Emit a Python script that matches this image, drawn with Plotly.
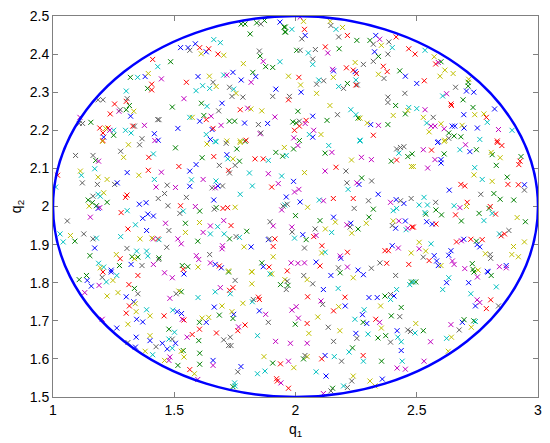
import plotly.graph_objects as go

# ---- data (in data units) ----
q1_a = [1.411,1.432,1.393,1.380,1.349,1.319,1.407,1.390,1.407,1.302,1.306,1.302,1.186,1.206,1.254,1.315,1.302,1.277,1.272,1.333,1.236,1.320,1.111,1.108,1.122,1.156,1.377,1.329,1.336,1.193,1.217,1.227,1.250,1.234,1.299,1.322,1.206,1.250,1.209,1.367,1.418,1.432,1.206,1.420]
q2_a = [2.386,2.367,2.349,2.341,2.339,2.339,2.321,2.310,2.306,2.303,2.283,2.276,2.280,2.280,2.269,2.265,2.254,2.254,2.250,2.250,2.243,2.237,2.234,2.218,2.218,2.221,2.213,2.211,2.211,2.206,2.205,2.206,2.200,2.200,2.200,2.193,2.193,2.187,2.182,2.178,2.191,2.228,2.173,2.173]
c_a = "rcybcgrgrc" "krkkrggkmy" "rbmkkgmrkr" "yrcmccrgbk" "bkrm"

q1_b = [1.776,1.792,1.840,1.857,1.872,1.936,1.953,1.956,1.813,1.663,1.690,1.587,1.526,1.557,1.564,1.605,1.642,1.632,1.611,1.680,1.704,1.851,1.854,1.867,1.936,1.485,1.877,1.906,1.785,1.824,1.836,1.742,1.717,1.704,1.645,1.598,1.447,1.776,1.817,1.550,1.660,1.617,1.646,1.673,1.590,1.728,1.745,1.755,1.738,1.783,1.919,1.906,1.540,1.612,1.635,1.697,1.492,1.683,1.772,1.803,1.816,1.861,1.915,1.622,1.652,1.564,1.574,1.632,1.605,1.437,1.727,1.749,1.790,1.847,1.885,1.693,1.660,1.656,1.515,1.632,1.649,1.672,1.717,1.772,1.796,1.854,1.857,1.434]
q2_b = [2.479,2.479,2.482,2.479,2.488,2.484,2.471,2.458,2.453,2.438,2.430,2.427,2.417,2.417,2.410,2.417,2.414,2.406,2.401,2.400,2.397,2.408,2.395,2.381,2.380,2.380,2.367,2.365,2.375,2.352,2.341,2.352,2.345,2.345,2.342,2.341,2.335,2.332,2.326,2.326,2.326,2.317,2.310,2.315,2.304,2.313,2.308,2.297,2.289,2.287,2.308,2.289,2.283,2.271,2.263,2.271,2.261,2.251,2.254,2.258,2.256,2.251,2.235,2.239,2.237,2.234,2.234,2.228,2.224,2.228,2.224,2.224,2.219,2.215,2.218,2.213,2.205,2.202,2.205,2.189,2.176,2.170,2.172,2.172,2.174,2.191,2.193,2.174]
c_b = "gggkgbgggc" "cbbbkrrbyr" "ykgmcgggyg" "bbmcybmbmr" "kccyckcykk" "bkmgcbgkrm" "yymgmcyrbk" "ggbkbmrbbc" "bcyyrmkb"

q1_c = [2.019,2.033,1.958,1.959,1.985,2.037,2.040,2.026,2.143,2.146,2.167,2.194,2.178,2.214,2.253,2.307,2.331,2.347,2.321,2.354,2.385,2.399,2.415,2.467,2.005,2.019,2.082,2.123,2.053,2.133,2.180,2.326,2.342,2.381,2.071,2.071,2.246,2.280,2.321,2.362,2.378,2.430,2.453,2.210,2.153,2.157,2.238,2.246,2.251,2.342,2.365,1.971,2.014,2.156,2.096,2.116,2.249,2.214,2.087,2.021,2.178,2.198,2.249,2.255,2.023,2.087,1.975,1.971,2.381,2.451,2.381,2.413,2.142,2.467,2.463,2.453,2.010,2.228,2.173,2.249,2.258,2.266,2.403,2.071,2.130,2.016,1.989,2.003,2.044,2.040,2.016,2.296,2.310,2.342,2.381,2.075,1.996,2.057,2.071,2.105,1.993,2.016,2.321,2.266]
q2_c = [2.497,2.486,2.471,2.458,2.465,2.465,2.449,2.440,2.486,2.475,2.465,2.470,2.445,2.449,2.436,2.436,2.449,2.439,2.426,2.423,2.432,2.417,2.445,2.414,2.410,2.410,2.412,2.419,2.403,2.403,2.414,2.406,2.394,2.400,2.387,2.373,2.378,2.373,2.381,2.368,2.354,2.356,2.342,2.364,2.360,2.356,2.358,2.354,2.349,2.347,2.336,2.342,2.339,2.339,2.332,2.330,2.332,2.323,2.321,2.319,2.315,2.310,2.319,2.319,2.300,2.297,2.289,2.280,2.287,2.297,2.273,2.265,2.265,2.260,2.252,2.243,2.250,2.254,2.241,2.241,2.232,2.232,2.239,2.237,2.226,2.224,2.222,2.219,2.226,2.218,2.211,2.219,2.215,2.213,2.215,2.200,2.200,2.189,2.182,2.189,2.180,2.173,2.187,2.174]
c_c = "myggcrbkyk" "cykrggbmky" "kcrrgkkrcm" "gbgkkcykkr" "rgbrmbrbry" "kyryckcgky" "ckrkbykrkk" "kgycyggckc" "gyybgkggrm" "rybmgmrcby" "mgrc"

q1_d = [2.534,2.493,2.572,2.600,2.589,2.578,2.616,2.650,2.596,2.531,2.500,2.714,2.712,2.712,2.660,2.705,2.735,2.623,2.607,2.691,2.641,2.643,2.732,2.821,2.500,2.534,2.694,2.739,2.777,2.787,2.791,2.527,2.568,2.541,2.559,2.575,2.600,2.613,2.646,2.657,2.687,2.695,2.750,2.837,2.893,2.551,2.632,2.654,2.682,2.632,2.616,2.589,2.760,2.832]
q2_d = [2.410,2.400,2.393,2.380,2.378,2.374,2.358,2.349,2.342,2.330,2.323,2.334,2.326,2.316,2.313,2.303,2.300,2.296,2.290,2.280,2.269,2.265,2.260,2.256,2.257,2.254,2.241,2.241,2.243,2.234,2.221,2.234,2.234,2.219,2.211,2.211,2.217,2.204,2.211,2.211,2.213,2.206,2.206,2.202,2.200,2.196,2.193,2.185,2.183,2.179,2.174,2.170,2.176,2.172]
c_d = "crygmryyyr" "byggkbbmcg" "rrgbcmbyyr" "cykcmmymbb" "ybbmcygggk" "ybcr"

q1_e = [1.204,1.311,1.357,1.093,1.165,1.176,1.188,1.279,1.291,1.395,1.414,1.113,1.117,1.172,1.186,1.223,1.306,1.354,1.393,1.418,1.019,1.011,1.121,1.183,1.254,1.265,1.425,1.165,1.186,1.209,1.195,1.145,1.162,1.223,1.149,1.179,1.186,1.193,1.299,1.305,1.356,1.384,1.434,1.154,1.059,1.281,1.306,1.370,1.391,1.414,1.309,1.340,1.386,1.029,1.042,1.072,1.090,1.127,1.165,1.179,1.279,1.359,1.408,1.414,1.432,1.172,1.305,1.345,1.386,1.152,1.261,1.326,1.336,1.350,1.391,1.277,1.188,1.209,1.195,1.240,1.274,1.322,1.367,1.414,1.436]
q2_e = [2.171,2.162,2.162,2.134,2.134,2.121,2.119,2.145,2.129,2.129,2.138,2.093,2.082,2.099,2.077,2.071,2.089,2.082,2.095,2.071,2.082,2.051,2.062,2.058,2.058,2.062,2.051,2.027,2.032,2.036,2.027,2.017,2.010,2.011,2.001,2.002,1.995,1.997,2.024,2.030,2.006,2.010,2.021,1.972,1.962,1.984,1.989,1.969,1.980,1.975,1.941,1.952,1.937,1.928,1.907,1.924,1.909,1.928,1.915,1.917,1.921,1.915,1.917,1.915,1.915,1.891,1.890,1.883,1.883,1.871,1.874,1.868,1.863,1.867,1.870,1.863,1.851,1.841,1.839,1.833,1.845,1.848,1.845,1.848,1.861]
c_e = "yykkkgmkyr" "cyccyybyrc" "rckkkbmkcy" "cgggygbmrr" "bbkmkrcbbb" "rcbccygkkc" "cyymrbkccg" "ygygcrccyb" "gbkmk"

q1_f = [1.635,1.669,1.714,1.772,1.792,1.505,1.758,1.919,1.954,1.947,1.615,1.663,1.717,1.721,1.742,1.769,1.751,1.833,1.867,1.888,1.519,1.590,1.686,1.447,1.564,1.724,1.728,1.810,1.888,1.943,1.571,1.619,1.672,1.471,1.505,1.564,1.656,1.669,1.680,1.699,1.822,1.902,1.929,1.460,1.772,1.550,1.663,1.474,1.526,1.587,1.605,1.537,1.523,1.665,1.673,1.701,1.720,1.751,1.943,1.949,1.956,1.464,1.546,1.604,1.704,1.478,1.546,1.619,1.649,1.679,1.734,1.799,1.895,1.908,1.649,1.706,1.755,1.769,1.728,1.437,1.515,1.529,1.597,1.888,1.892,1.915,1.469,1.699,1.697,1.788,1.817,1.908,1.646,1.591,1.601,1.437,1.649,1.669,1.686,1.694,1.533,1.556,1.598,1.537,1.908,1.861,1.867,1.891,1.820,1.724]
q2_f = [2.164,2.171,2.166,2.168,2.171,2.154,2.151,2.142,2.155,2.132,2.128,2.131,2.136,2.125,2.125,2.119,2.108,2.125,2.125,2.121,2.105,2.110,2.108,2.090,2.093,2.095,2.088,2.088,2.086,2.080,2.070,2.071,2.067,2.056,2.050,2.053,2.049,2.049,2.054,2.054,2.054,2.051,2.060,2.034,2.032,2.024,2.017,2.002,2.002,2.000,1.988,1.988,1.982,1.993,1.997,1.995,1.997,1.998,1.991,2.001,2.004,1.956,1.956,1.958,1.963,1.937,1.932,1.932,1.949,1.947,1.950,1.935,1.960,1.949,1.928,1.928,1.921,1.919,1.915,1.913,1.915,1.902,1.909,1.913,1.915,1.915,1.893,1.897,1.889,1.894,1.894,1.895,1.874,1.871,1.861,1.865,1.852,1.848,1.844,1.839,1.845,1.842,1.841,1.835,1.868,1.852,1.842,1.841,1.829,1.831]
c_f = "yckyggggyg" "grbcygkrrc" "rbkmbrkcmc" "cmckmbkmbk" "crmkckbkrm" "gckkgrrymk" "cmgymkymmc" "rgkmcckcgc" "mmgbkrkmmy" "brkmmgmbrb" "ggyrygbryy"

q1_g = [2.010,1.992,1.962,2.137,2.122,2.150,2.266,2.417,2.433,2.447,2.426,2.463,2.481,2.395,2.417,2.478,2.231,2.272,2.313,2.167,2.122,2.208,2.037,2.273,2.212,2.253,2.262,2.314,1.992,1.996,2.014,1.962,2.217,2.341,2.019,1.966,2.098,2.115,2.156,2.238,2.301,2.392,2.415,2.433,2.447,2.477,2.050,2.242,2.321,2.403,2.417,2.000,2.303,2.157,2.101,2.164,2.212,2.228,2.225,2.292,2.258,2.403,2.426,2.453,2.399,2.413,2.463,2.456,2.481,1.985,1.986,2.081,2.123,2.149,2.232,2.030,1.996,2.044,2.075,2.085,2.037,2.109,2.108,2.122,2.214,2.184,2.187,2.369,2.383,2.399,2.424,2.477,1.982,2.010,2.037,2.085,2.101,2.177,2.214,2.258,2.313,2.348,2.376,2.467,1.966]
q2_g = [2.160,2.151,2.134,2.160,2.140,2.142,2.172,2.151,2.155,2.157,2.140,2.131,2.138,2.119,2.122,2.105,2.122,2.129,2.123,2.103,2.093,2.093,2.089,2.075,2.062,2.062,2.058,2.067,2.066,2.038,2.045,2.025,2.045,2.032,2.012,2.006,2.017,2.015,2.021,2.021,2.015,2.011,2.018,2.015,2.008,2.021,1.998,1.995,1.993,1.989,1.995,1.976,1.972,1.972,1.963,1.959,1.952,1.956,1.946,1.956,1.941,1.962,1.962,1.962,1.950,1.943,1.943,1.939,1.946,1.946,1.933,1.941,1.941,1.932,1.930,1.926,1.917,1.913,1.921,1.924,1.891,1.897,1.878,1.880,1.880,1.870,1.864,1.884,1.884,1.897,1.891,1.878,1.852,1.851,1.852,1.854,1.844,1.839,1.841,1.833,1.838,1.852,1.851,1.848,1.831]
c_g = "mgccgmckkk" "cgggryymmr" "mkygkmbkbm" "mbcbbkcmrr" "kmbkbkykgc" "cggbgymbky" "gymbkbmcrm" "kkycybcgrm" "krycrmbrrb" "mymmmbrkmb" "kkrrr"

q1_h = [2.586,2.613,2.701,2.832,2.851,2.527,2.561,2.678,2.719,2.746,2.807,2.811,2.613,2.575,2.600,2.600,2.844,2.930,2.926,2.921,2.486,2.545,2.739,2.736,2.828,2.873,2.770,2.811,2.682,2.698,2.876,2.919,2.944,2.944,2.634,2.764,2.818,2.530,2.578,2.844,2.900,2.510,2.544,2.654,2.678,2.705,2.708,2.798,2.803,2.579,2.534,2.537,2.602,2.660,2.757,2.811,2.825,2.541,2.564,2.579,2.684,2.777,2.914,2.948,2.486,2.841,2.848,2.862,2.880,2.664,2.684,2.694,2.723,2.746,2.770,2.749,2.760,2.510,2.559,2.510,2.537,2.641,2.632,2.572,2.527,2.551,2.582,2.589,2.600,2.647,2.654,2.698,2.729,2.732,2.753,2.783,2.803,2.805,2.841,2.869,2.869,2.791,2.892,2.919,2.899,2.944]
q2_h = [2.168,2.171,2.162,2.168,2.160,2.149,2.148,2.149,2.144,2.149,2.142,2.136,2.138,2.123,2.123,2.114,2.128,2.131,2.119,2.110,2.105,2.101,2.102,2.083,2.108,2.077,2.071,2.066,2.058,2.054,2.058,2.057,2.057,2.043,2.043,2.032,2.034,2.024,2.011,2.019,2.017,2.004,2.004,2.002,1.997,2.000,2.011,1.995,2.000,1.991,1.984,1.980,1.978,1.978,1.982,1.982,1.980,1.960,1.954,1.954,1.962,1.963,1.971,1.960,1.946,1.928,1.923,1.928,1.937,1.907,1.910,1.914,1.914,1.909,1.913,1.900,1.894,1.906,1.902,1.889,1.883,1.884,1.872,1.871,1.867,1.858,1.857,1.845,1.845,1.857,1.848,1.837,1.850,1.835,1.833,1.876,1.874,1.864,1.842,1.845,1.839,1.830,1.874,1.868,1.895,1.907]
c_h = "bymrrmrcbg" "yggmbbygrr" "ymcyggcyrr" "rrbkbkgckg" "gcccmyrgrg" "cggrgcrbbr" "gcygrcrrkr" "mbrgrbbycm" "ybbbkrbbym" "mmggyykkmb" "mbyyyy"

q1_i = [1.206,1.240,1.108,1.138,1.141,1.158,1.190,1.203,1.220,1.247,1.263,1.350,1.131,1.313,1.336,1.350,1.223,1.268,1.302,1.333,1.339,1.315,1.302,1.343,1.386,1.400,1.345,1.370,1.309,1.203,1.263,1.343,1.400,1.400,1.425,1.309,1.340,1.380,1.411]
q2_i = [1.828,1.828,1.808,1.819,1.806,1.791,1.793,1.814,1.802,1.806,1.819,1.819,1.774,1.795,1.785,1.771,1.765,1.774,1.763,1.750,1.745,1.739,1.720,1.724,1.729,1.713,1.704,1.697,1.691,1.704,1.681,1.657,1.661,1.648,1.632,1.643,1.631,1.620,1.611]
c_i = "rbggbbmkcy" "crmrgkyybb" "yrrycybbym" "bbybkkbyc"

q1_j = [1.460,1.492,1.540,1.724,1.751,1.820,1.895,1.902,1.938,1.956,1.508,1.519,1.529,1.482,1.598,1.669,1.690,1.728,1.731,1.742,1.820,1.783,1.822,1.826,1.847,1.851,1.851,1.877,1.888,1.494,1.512,1.530,1.458,1.533,1.540,1.665,1.697,1.686,1.738,1.745,1.742,1.615,1.642,1.632,1.604,1.792,1.604,1.765,1.762,1.478,1.501,1.574,1.674,1.553,1.478,1.492,1.601,1.704,1.731,1.724,1.734,1.843,1.918,1.451,1.505,1.471,1.492,1.529,1.537,1.605,1.540,1.482,1.478,1.460,1.660,1.660,1.605,1.515,1.870,1.906,1.938,1.775,1.564,1.762,1.874,1.843,1.583,1.597,1.922,1.925,1.940,1.749,1.751,1.742]
q2_j = [1.826,1.813,1.823,1.828,1.806,1.828,1.823,1.823,1.795,1.808,1.771,1.778,1.776,1.759,1.761,1.776,1.787,1.780,1.771,1.787,1.797,1.746,1.750,1.756,1.762,1.756,1.726,1.717,1.696,1.728,1.724,1.719,1.713,1.704,1.702,1.736,1.739,1.715,1.724,1.717,1.706,1.707,1.709,1.696,1.696,1.689,1.678,1.684,1.674,1.678,1.670,1.664,1.668,1.657,1.652,1.652,1.648,1.650,1.657,1.635,1.635,1.661,1.646,1.641,1.641,1.626,1.628,1.620,1.622,1.615,1.605,1.605,1.596,1.596,1.596,1.583,1.586,1.583,1.606,1.589,1.587,1.580,1.572,1.566,1.568,1.561,1.561,1.546,1.548,1.542,1.537,1.537,1.529,1.527]
c_j = "mmbgkycygy" "kygmccmrcr" "yyckrrbmkc" "bbrmrbygyb" "gyybgrrmrg" "crrmckgkkk" "kcmbbbcygg" "ymmybmggyg" "rbrkccymrr" "mccg"

q1_k = [1.966,1.969,1.962,2.034,2.048,2.071,2.146,2.184,2.238,2.280,2.413,2.471,2.478,2.115,2.176,2.417,2.050,2.204,2.303,2.337,2.369,2.392,2.406,2.392,2.436,2.105,2.112,2.178,2.205,2.351,2.003,1.985,2.157,2.283,2.276,2.395,2.430,2.012,2.092,2.245,2.331,2.347,2.279,2.294,1.999,2.048,2.135,2.183,2.354,2.419,2.463,2.474,2.055,2.249,2.253,2.299,2.340,2.372,2.392,2.422,2.436,2.157,1.979,2.048,2.235,2.436,2.039,2.048,2.033,2.122,2.108,2.160,2.221,2.279,2.190,2.280,2.355,2.440,1.971,1.993,2.419,2.453,2.085,2.126,2.238,2.232,2.307,2.358,1.971,2.153,2.146,2.198,2.214,2.328,2.115]
q2_k = [1.804,1.793,1.782,1.819,1.808,1.797,1.819,1.826,1.813,1.821,1.819,1.795,1.802,1.782,1.785,1.782,1.763,1.762,1.761,1.761,1.765,1.769,1.765,1.756,1.735,1.752,1.743,1.737,1.739,1.739,1.737,1.728,1.726,1.729,1.716,1.713,1.711,1.707,1.710,1.704,1.704,1.696,1.696,1.693,1.691,1.693,1.683,1.674,1.681,1.674,1.676,1.672,1.667,1.667,1.654,1.665,1.655,1.661,1.644,1.657,1.645,1.646,1.641,1.641,1.629,1.622,1.609,1.606,1.600,1.609,1.600,1.606,1.618,1.609,1.594,1.594,1.594,1.594,1.594,1.577,1.576,1.573,1.566,1.555,1.555,1.542,1.542,1.547,1.523,1.523,1.516,1.529,1.525,1.529,1.509]
c_k = "kgkkykbgyb" "kcgbccrrbb" "gkbcgmkyby" "mmrcbgkmyc" "rmgbgrkyyb" "kkybkcggkc" "ckmmgbkygb" "rccrkcgcmy" "mmcbykybrg" "kckym"

q1_l = [2.496,2.486,2.632,2.623,2.607,2.714,2.750,2.736,2.794,2.807,2.828,2.723,2.749,2.760,2.805,2.742,2.787,2.837,2.496,2.493,2.527,2.641,2.688,2.695,2.735,2.742,2.675,2.725,2.557,2.623,2.643,2.630,2.530]
q2_l = [1.802,1.802,1.813,1.800,1.782,1.800,1.815,1.828,1.828,1.819,1.789,1.771,1.755,1.748,1.755,1.739,1.732,1.739,1.693,1.668,1.674,1.690,1.696,1.703,1.700,1.698,1.676,1.683,1.645,1.654,1.657,1.620,1.594]
c_l = "gccbcbmgbg" "ccmmrbrkyc" "gmbggckymc" "yym"

# boundary ellipse (data extents)
ellipse_q1 = [1.0, 3.0]
ellipse_q2 = [1.5, 2.5]

x_ticks = [1, 1.5, 2, 2.5, 3]
x_tick_text = ["1", "1.5", "2", "2.5", "3"]
y_ticks = [1.5, 1.6, 1.7, 1.8, 1.9, 2.0, 2.1, 2.2, 2.3, 2.4, 2.5]
y_tick_text = ["1.5", "1.6", "1.7", "1.8", "1.9", "2", "2.1", "2.2", "2.3", "2.4", "2.5"]

series_colors = {
    "b": "#0000ff",
    "g": "#008000",
    "r": "#ff0000",
    "c": "#00bfbf",
    "m": "#bf00bf",
    "y": "#bfbf00",
    "k": "#606060",
}

# ---- assemble ----
all_q1, all_q2, all_c = [], [], []
for xs, ys, cs in [(q1_a, q2_a, c_a), (q1_b, q2_b, c_b), (q1_c, q2_c, c_c), (q1_d, q2_d, c_d),
                   (q1_e, q2_e, c_e), (q1_f, q2_f, c_f), (q1_g, q2_g, c_g), (q1_h, q2_h, c_h),
                   (q1_i, q2_i, c_i), (q1_j, q2_j, c_j), (q1_k, q2_k, c_k), (q1_l, q2_l, c_l)]:
    for x, y, c in zip(xs, ys, cs):
        all_q1.append(x)
        all_q2.append(y)
        all_c.append(c)

fig = go.Figure()
for code, col in series_colors.items():
    xs = [x for x, c in zip(all_q1, all_c) if c == code]
    ys = [y for y, c in zip(all_q2, all_c) if c == code]
    fig.add_trace(go.Scatter(
        x=xs, y=ys, mode="markers",
        marker=dict(symbol="x-thin", size=5, line=dict(width=1, color=col), color=col),
        showlegend=False, hoverinfo="skip",
    ))

fig.add_shape(type="circle", xref="x", yref="y",
              x0=ellipse_q1[0], x1=ellipse_q1[1], y0=ellipse_q2[0], y1=ellipse_q2[1],
              line=dict(color="#0000ff", width=2.5), layer="above")

FONT = "Liberation Sans, Arial, sans-serif"
axis_common = dict(
    showgrid=False, zeroline=False, showline=True, linecolor="#808080", linewidth=1,
    mirror="ticks", ticks="inside", ticklen=5, tickcolor="#808080", tickwidth=1,
    tickfont=dict(family=FONT, size=14, color="#000000"),
)

fig.update_layout(
    width=550, height=443,
    margin=dict(l=53, r=8, t=12, b=46),
    paper_bgcolor="white", plot_bgcolor="white",
    xaxis=dict(range=[1, 3], tickvals=x_ticks, ticktext=x_tick_text,
               title=dict(text="q<sub>1</sub>", standoff=7, font=dict(family=FONT, size=14, color="#000")),
               **axis_common),
    yaxis=dict(range=[1.5, 2.5], tickvals=y_ticks, ticktext=y_tick_text,
               title=dict(text="q<sub>2</sub>", standoff=4, font=dict(family=FONT, size=14, color="#000")),
               **axis_common),
)

# remove the browser's default 8px page margin so the figure sits at the page origin
fig.write_html(
    "out.html",
    config={"displayModeBar": False, "staticPlot": True},
    post_script="document.body.style.margin='0';document.body.style.overflow='hidden';",
)
